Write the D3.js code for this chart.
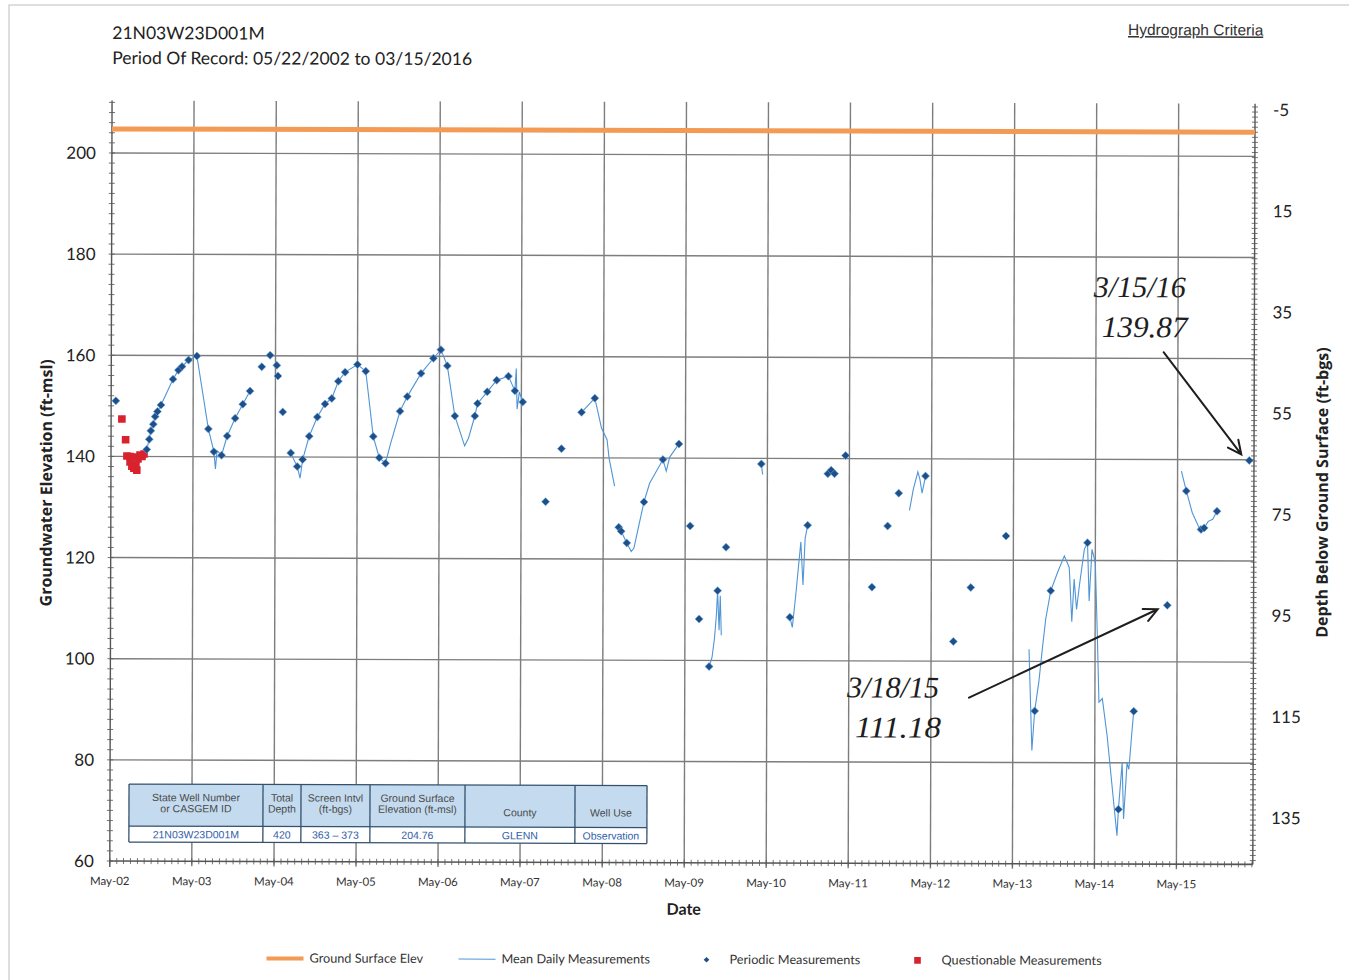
<!DOCTYPE html>
<html>
<head>
<meta charset="utf-8">
<script src="https://cdn.jsdelivr.net/npm/d3@7"></script>
<style>
  body { margin: 0; background: #fff; }
  svg { display: block; }
</style>
</head>
<body>
<svg id="chart" width="1349" height="980"></svg>
<script>
"use strict";

//data

const wellId = "21N03W23D001M";
const periodText = "Period Of Record: 05/22/2002 to 03/15/2016";
const groundElev = 204.76;

const periodicDates = [
  "2002-05-22", "2002-10-07", "2002-10-18", "2002-10-25", "2002-11-05", "2002-11-13", "2002-11-23",
  "2002-12-09", "2003-01-31", "2003-02-24", "2003-03-12", "2003-04-10", "2003-05-17", "2003-07-08",
  "2003-08-02", "2003-09-05", "2003-09-30", "2003-11-04", "2003-12-08", "2004-01-09", "2004-03-01",
  "2004-04-07", "2004-05-07", "2004-05-12", "2004-06-03", "2004-07-09", "2004-08-07", "2004-08-31",
  "2004-09-29", "2004-11-04", "2004-12-08", "2005-01-07", "2005-02-05", "2005-03-07", "2005-05-01",
  "2005-06-07", "2005-07-11", "2005-08-07", "2005-09-04", "2005-11-07", "2005-12-09", "2006-02-08",
  "2006-04-04", "2006-05-07", "2006-06-05", "2006-07-09", "2006-10-06", "2006-10-18", "2006-11-30",
  "2007-01-11", "2007-03-04", "2007-04-02", "2007-05-07", "2007-08-18", "2007-10-27", "2008-01-24",
  "2008-03-23", "2008-07-09", "2008-07-20", "2008-08-14", "2008-10-29", "2009-01-21", "2009-04-02",
  "2009-05-23", "2009-07-03", "2009-08-17", "2009-09-23", "2009-10-30", "2010-04-04", "2010-08-11",
  "2010-10-28", "2011-01-25", "2011-02-09", "2011-02-24", "2011-04-14", "2011-08-11", "2011-10-19",
  "2011-12-07", "2012-04-04", "2012-08-08", "2012-10-24", "2013-03-29", "2013-08-06", "2013-10-15",
  "2014-03-27", "2014-08-15", "2014-10-21", "2015-03-18", "2015-06-09", "2015-08-14", "2015-08-28",
  "2015-10-24", "2016-03-15"
];

const periodicElev = [
  151.0, 141.4, 143.4, 145.1, 146.4, 147.9, 148.9,
  150.2, 155.3, 157.1, 157.8, 159.1, 159.9, 145.5,
  141.0, 140.3, 144.1, 147.6, 150.4, 153.0, 157.8,
  160.1, 158.1, 156.0, 148.9, 140.8, 138.1, 139.5,
  144.1, 147.9, 150.5, 151.6, 155.0, 156.8, 158.3,
  157.0, 144.1, 139.9, 138.8, 149.1, 152.0, 156.6,
  159.6, 161.3, 158.1, 148.2, 148.2, 150.7, 153.0,
  155.3, 156.1, 153.2, 151.0, 131.3, 141.8, 149.0,
  151.8, 126.3, 125.5, 123.2, 131.3, 139.7, 142.8,
  126.6, 108.2, 98.8, 113.8, 122.4, 138.9, 108.6,
  126.8, 137.0, 137.7, 137.0, 140.6, 114.6, 126.7,
  133.2, 136.6, 103.9, 114.6, 124.8, 90.2, 114.0,
  123.5, 70.8, 90.2, 111.18, 133.8, 126.2, 126.5,
  129.8, 139.87
];

const questionableDates = [
  "2002-06-18", "2002-07-05", "2002-07-11", "2002-07-25", "2002-07-25", "2002-08-02", "2002-08-11",
  "2002-08-16", "2002-08-20", "2002-08-29", "2002-09-07", "2002-09-16", "2002-09-25", "2002-08-24"
];

const questionableElev = [
  147.4, 143.3, 140.1, 138.9, 140.0, 138.1, 137.7,
  139.9, 138.3, 139.5, 140.3, 140.0, 140.5, 137.3
];

//mean daily measurements, null marks a gap in the record

const dailyDates = [
  "2002-09-25", "2002-10-07", "2002-10-18", "2002-10-25", "2002-11-05", "2002-11-13", "2002-11-23",
  "2002-12-09", "2003-01-31", "2003-02-24", "2003-03-12", "2003-04-10", "2003-05-17", "2003-07-08",
  "2003-08-02", "2003-08-09", "2003-08-16", "2003-09-05", "2003-09-30", "2003-11-04", "2003-12-08",
  "2004-01-09", null,
  "2004-07-09", "2004-08-07", "2004-08-20", "2004-08-31", "2004-09-29", "2004-11-04", "2004-12-08",
  "2005-01-07", "2005-02-05", "2005-03-07", "2005-05-01", "2005-06-07", "2005-07-11", "2005-08-07",
  "2005-09-04", "2005-09-25", "2005-11-07", "2005-12-09", "2006-02-08", "2006-04-04", "2006-05-07",
  "2006-06-05", "2006-07-09", "2006-08-22", "2006-09-08", "2006-10-06", "2006-10-18", "2006-11-30",
  "2007-01-11", "2007-03-04", "2007-04-02", "2007-04-08", "2007-04-12", "2007-04-22", "2007-05-07", null,
  "2008-01-24", "2008-03-23", "2008-04-22", "2008-05-17", "2008-05-26", "2008-06-20", null,
  "2008-07-09", "2008-07-20", "2008-08-14", "2008-09-03", "2008-09-15", "2008-10-29", "2008-11-23",
  "2009-01-21", "2009-02-05", "2009-02-20", "2009-04-02", null,
  "2009-08-17", "2009-08-30", "2009-09-10", "2009-09-18", "2009-09-23", "2009-09-30", "2009-10-05",
  "2009-10-10", null,
  "2010-04-04", "2010-04-10", null,
  "2010-08-11", "2010-08-22", "2010-09-06", "2010-09-28", "2010-10-08", "2010-10-17", "2010-10-28", null,
  "2012-01-24", "2012-02-10", "2012-03-01", "2012-03-10", "2012-03-20", "2012-04-04", null,
  "2013-07-11", "2013-07-25", "2013-08-06", "2013-08-24", "2013-09-08", "2013-09-23", "2013-10-15",
  "2013-11-14", "2013-12-14", "2014-01-05", "2014-01-17", "2014-01-27", "2014-02-07", "2014-02-19",
  "2014-03-13", "2014-03-27", "2014-04-04", "2014-04-16", "2014-05-01", "2014-05-11", "2014-05-19",
  "2014-06-03", "2014-06-25", "2014-07-25", "2014-08-09", "2014-08-15", "2014-08-31", "2014-09-07",
  "2014-09-22", "2014-09-30", "2014-10-14", "2014-10-21", null,
  "2015-05-18", "2015-06-09", "2015-07-06", "2015-08-06", "2015-08-14", "2015-08-28", "2015-09-15",
  "2015-10-05", "2015-10-24"
];

const dailyElev = [
  140.2, 141.4, 143.4, 145.1, 146.4, 147.9, 148.9,
  150.2, 155.3, 157.1, 157.8, 159.1, 159.9, 145.5,
  141.0, 137.6, 141.2, 140.3, 144.1, 147.6, 150.4,
  153.0, null,
  140.8, 138.1, 135.8, 139.5, 144.1, 147.9, 150.5,
  151.6, 155.0, 156.8, 158.3, 157.0, 144.1, 139.9,
  138.8, 142.5, 149.1, 152.0, 156.6, 159.6, 161.3,
  158.1, 148.2, 142.3, 143.8, 148.2, 150.7, 153.0,
  155.3, 156.1, 153.2, 157.6, 149.6, 153.0, 151.0, null,
  149.0, 151.8, 145.9, 143.6, 140.0, 134.4, null,
  126.3, 125.5, 123.2, 121.5, 122.2, 131.3, 135.0,
  139.7, 137.4, 140.2, 142.8, null,
  98.8, 100.6, 104.5, 109.0, 113.8, 106.0, 112.8,
  105.0, null,
  138.9, 136.8, null,
  108.6, 106.6, 113.0, 123.5, 115.0, 124.2, 126.8, null,
  129.8, 134.0, 137.4, 136.0, 133.2, 136.6, null,
  102.4, 82.4, 90.2, 95.9, 102.4, 108.4, 114.0,
  117.6, 120.9, 118.6, 107.9, 116.3, 110.3, 114.9,
  122.2, 123.5, 112.0, 122.2, 119.6, 105.1, 92.0,
  92.7, 85.3, 72.1, 65.6, 70.8, 80.0, 68.9,
  80.0, 78.7, 86.6, 90.2, null,
  137.7, 133.8, 129.5, 126.5, 126.2, 126.5, 127.8,
  128.2, 129.8
];

//axis ticks

const elevTicks = [60, 80, 100, 120, 140, 160, 180, 200];
const depthTicks = [-5, 15, 35, 55, 75, 95, 115, 135];

//well table

const tableHeaders = [
  ["State Well Number", "or CASGEM ID"],
  ["Total", "Depth"],
  ["Screen Intvl", "(ft-bgs)"],
  ["Ground Surface", "Elevation (ft-msl)"],
  ["County"],
  ["Well Use"]
];
const tableValues = ["21N03W23D001M", "420", "363 \u2013 373", "204.76", "GLENN", "Observation"];

//handwritten notes

const noteDates = ["2016-03-15", "2015-03-18"];
const noteElev = [139.87, 111.18];
const noteLines = [["3/15/16", "139.87"], ["3/18/15", "111.18"]];

//legend

const legendLabels = ["Ground Surface Elev", "Mean Daily Measurements", "Periodic Measurements", "Questionable Measurements"];

//layout

const plot = { left: 111, right: 1254, top: 102.4, bottom: 861 };
const colors = {
  grid: "#7d7d7d",
  ground: "#f39a55",
  daily: "#4f95d6",
  periodic: "#1f4f88",
  questionable: "#d8232f",
  text: "#222"
};
const calibri = "Lato, 'Open Sans', sans-serif";
const wide = "'Open Sans', Lato, sans-serif";
const arial = "'Liberation Sans', Arial, sans-serif";

//scales

const parse = d3.utcParse("%Y-%m-%d");

const x = d3.scaleUtc()
  .domain([parse("2002-05-01"), parse("2016-04-05")])
  .range([plot.left, plot.right]);

const y = d3.scaleLinear()
  .domain([60, 210])
  .range([plot.bottom, plot.top]);

const yDepth = d3.scaleLinear()
  .domain([groundElev - 60, groundElev - 210])
  .range([plot.bottom, plot.top]);

const yearTicks = d3.utcYear.range(parse("2002-01-01"), parse("2016-01-01"))
  .map((d) => d3.utcMonth.offset(d, 4));

//render

const svg = d3.select("#chart");

svg.append("rect").attr("width", 1349).attr("height", 980).attr("fill", "#fff");

//scan frame

svg.append("rect")
  .attr("x", 9).attr("y", 5).attr("width", 1360).attr("height", 1000)
  .attr("fill", "none").attr("stroke", "#c8c8c8").attr("stroke-width", 1.2);

const page = svg.append("g").attr("transform", `rotate(0.17, ${plot.left}, 457)`);

//titles

page.append("text")
  .attr("x", 111).attr("y", 39)
  .attr("font-family", calibri).attr("font-size", 17.5).attr("fill", colors.text)
  .text(wellId);

page.append("text")
  .attr("x", 111).attr("y", 64)
  .attr("font-family", calibri).attr("font-size", 17.5).attr("fill", colors.text)
  .text(periodText);

page.append("text")
  .attr("x", 1262).attr("y", 32).attr("text-anchor", "end")
  .attr("font-family", arial).attr("font-size", 15.5).attr("fill", "#333")
  .attr("text-decoration", "underline")
  .text("Hydrograph Criteria");

//grid

const grid = page.append("g");

grid.selectAll(".hgrid")
  .data(elevTicks.filter((d) => d > 60))
  .join("line")
  .attr("x1", plot.left).attr("x2", plot.right)
  .attr("y1", (d) => y(d)).attr("y2", (d) => y(d))
  .attr("stroke", colors.grid).attr("stroke-width", 1.4);

grid.selectAll(".vgrid")
  .data(yearTicks.slice(1))
  .join("line")
  .attr("x1", (d) => x(d)).attr("x2", (d) => x(d))
  .attr("y1", plot.top - 2).attr("y2", plot.bottom + 5)
  .attr("stroke", colors.grid).attr("stroke-width", 1.4);

//axes

const axes = page.append("g").attr("stroke", "#555");

axes.append("line")
  .attr("x1", plot.left).attr("x2", plot.left)
  .attr("y1", plot.top - 2).attr("y2", plot.bottom)
  .attr("stroke-width", 1.4);

axes.append("line")
  .attr("x1", plot.right).attr("x2", plot.right)
  .attr("y1", plot.top - 2).attr("y2", plot.bottom)
  .attr("stroke-width", 1.4);

axes.append("line")
  .attr("x1", plot.left).attr("x2", plot.right)
  .attr("y1", plot.bottom).attr("y2", plot.bottom)
  .attr("stroke-width", 1.6);

//minor ticks

axes.selectAll(".lminor")
  .data(d3.range(60, 211, 2))
  .join("line")
  .attr("x1", plot.left - 3).attr("x2", plot.left + 3)
  .attr("y1", (d) => y(d)).attr("y2", (d) => y(d))
  .attr("stroke-width", 0.8);

axes.selectAll(".rminor")
  .data(d3.range(-5, 145, 1))
  .join("line")
  .attr("x1", plot.right - 3).attr("x2", plot.right + 3)
  .attr("y1", (d) => yDepth(d)).attr("y2", (d) => yDepth(d))
  .attr("stroke-width", 0.8);

axes.selectAll(".xminor")
  .data(d3.utcMonth.range(x.domain()[0], x.domain()[1]))
  .join("line")
  .attr("x1", (d) => x(d)).attr("x2", (d) => x(d))
  .attr("y1", plot.bottom - 3).attr("y2", plot.bottom + 3)
  .attr("stroke-width", 0.8);

axes.append("line")
  .attr("x1", plot.left).attr("x2", plot.left)
  .attr("y1", plot.bottom).attr("y2", plot.bottom + 6)
  .attr("stroke-width", 1.4);

//tick labels

page.selectAll(".ylabel")
  .data(elevTicks)
  .join("text")
  .attr("x", 95).attr("y", (d) => y(d) + 6)
  .attr("text-anchor", "end")
  .attr("font-family", calibri).attr("font-size", 17).attr("fill", colors.text)
  .text((d) => d);

page.selectAll(".dlabel")
  .data(depthTicks)
  .join("text")
  .attr("x", 1272).attr("y", (d) => yDepth(d) + 9)
  .attr("font-family", calibri).attr("font-size", 17).attr("fill", colors.text)
  .text((d) => d);

page.selectAll(".xlabel")
  .data(yearTicks)
  .join("text")
  .attr("x", (d) => x(d)).attr("y", 885)
  .attr("text-anchor", "middle")
  .attr("font-family", calibri).attr("font-size", 11.5).attr("fill", "#333")
  .text((d) => d3.utcFormat("%b-%y")(d));

//axis titles

page.append("text")
  .attr("x", 685).attr("y", 913)
  .attr("text-anchor", "middle")
  .attr("font-family", calibri).attr("font-size", 16).attr("font-weight", "bold").attr("fill", colors.text)
  .text("Date");

page.append("text")
  .attr("transform", "translate(52, 483) rotate(-90)")
  .attr("text-anchor", "middle")
  .attr("font-family", wide).attr("font-size", 16).attr("font-weight", "bold").attr("fill", colors.text)
  .text("Groundwater Elevation (ft-msl)");

page.append("text")
  .attr("transform", "translate(1328, 489) rotate(-90)")
  .attr("text-anchor", "middle")
  .attr("font-family", wide).attr("font-size", 16).attr("font-weight", "bold").attr("fill", colors.text)
  .text("Depth Below Ground Surface (ft-bgs)");

//ground surface

page.append("line")
  .attr("x1", plot.left).attr("x2", plot.right)
  .attr("y1", y(groundElev)).attr("y2", y(groundElev))
  .attr("stroke", colors.ground).attr("stroke-width", 5);

//mean daily line

const daily = dailyDates.map((d, i) => ({ date: d && parse(d), v: dailyElev[i] }));

const lineFn = d3.line()
  .defined((d) => d.v !== null)
  .x((d) => x(d.date))
  .y((d) => y(d.v));

page.append("path")
  .datum(daily)
  .attr("d", lineFn)
  .attr("fill", "none")
  .attr("stroke", colors.daily)
  .attr("stroke-width", 1.1);

//questionable measurements

const squareFn = d3.symbol().type(d3.symbolSquare).size(58);

page.selectAll(".quest")
  .data(questionableDates.map((d, i) => ({ date: parse(d), v: questionableElev[i] })))
  .join("path")
  .attr("d", squareFn)
  .attr("transform", (d) => `translate(${x(d.date)}, ${y(d.v)})`)
  .attr("fill", colors.questionable);

//periodic measurements

const diamondFn = d3.symbol().type(d3.symbolSquare).size(32);

page.selectAll(".periodic")
  .data(periodicDates.map((d, i) => ({ date: parse(d), v: periodicElev[i] })))
  .join("path")
  .attr("d", diamondFn)
  .attr("transform", (d) => `translate(${x(d.date)}, ${y(d.v)}) rotate(45)`)
  .attr("fill", colors.periodic)
  .attr("stroke", "#6aa6dc")
  .attr("stroke-width", 0.6);

//well table

const colWidths = [134, 38, 69, 95, 110, 72];
const colX = colWidths.reduce((acc, w) => acc.concat(acc[acc.length - 1] + w), [130]);
const table = page.append("g");
const headTop = 784;
const headH = 42;
const rowH = 16;

table.append("rect")
  .attr("x", colX[0]).attr("y", headTop)
  .attr("width", colX[colX.length - 1] - colX[0]).attr("height", headH)
  .attr("fill", "#c4dbef");

table.append("rect")
  .attr("x", colX[0]).attr("y", headTop + headH)
  .attr("width", colX[colX.length - 1] - colX[0]).attr("height", rowH)
  .attr("fill", "#fff");

table.selectAll(".colline")
  .data(colX)
  .join("line")
  .attr("x1", (d) => d).attr("x2", (d) => d)
  .attr("y1", headTop).attr("y2", headTop + headH + rowH)
  .attr("stroke", "#33506d").attr("stroke-width", 1.3);

table.selectAll(".rowline")
  .data([headTop, headTop + headH, headTop + headH + rowH])
  .join("line")
  .attr("x1", colX[0]).attr("x2", colX[colX.length - 1])
  .attr("y1", (d) => d).attr("y2", (d) => d)
  .attr("stroke", "#33506d").attr("stroke-width", 1.3);

tableHeaders.forEach((lines, i) => {

  const cx = (colX[i] + colX[i + 1]) / 2;
  const top = lines.length === 1 ? headTop + 31 : headTop + 17;

  table.selectAll(null)
    .data(lines)
    .join("text")
    .attr("x", cx).attr("y", (d, j) => top + j * 11)
    .attr("text-anchor", "middle")
    .attr("font-family", arial).attr("font-size", 10.5).attr("fill", "#4a4a4a")
    .text((d) => d);

});

table.selectAll(".cellval")
  .data(tableValues)
  .join("text")
  .attr("x", (d, i) => (colX[i] + colX[i + 1]) / 2)
  .attr("y", headTop + headH + 12)
  .attr("text-anchor", "middle")
  .attr("font-family", arial).attr("font-size", 10.5).attr("fill", "#2f5ea8")
  .text((d) => d);

//legend

const legend = page.append("g").attr("font-family", calibri).attr("font-size", 12.7).attr("fill", "#333");
const legendX = [268, 460, 700, 912];
const legendY = 958;

legend.append("line")
  .attr("x1", legendX[0]).attr("x2", legendX[0] + 37)
  .attr("y1", legendY).attr("y2", legendY)
  .attr("stroke", colors.ground).attr("stroke-width", 4);

legend.append("line")
  .attr("x1", legendX[1]).attr("x2", legendX[1] + 37)
  .attr("y1", legendY).attr("y2", legendY)
  .attr("stroke", colors.daily).attr("stroke-width", 1);

legend.append("path")
  .attr("d", d3.symbol().type(d3.symbolSquare).size(16))
  .attr("transform", `translate(${legendX[2] + 8}, ${legendY}) rotate(45)`)
  .attr("fill", colors.periodic);

legend.append("path")
  .attr("d", d3.symbol().type(d3.symbolSquare).size(44))
  .attr("transform", `translate(${legendX[3] + 7}, ${legendY})`)
  .attr("fill", colors.questionable);

legend.selectAll("text")
  .data(legendLabels)
  .join("text")
  .attr("x", (d, i) => legendX[i] + [43, 43, 31, 31][i])
  .attr("y", legendY + 4)
  .text((d) => d);

//handwritten notes

const noteOffsets = [
  { tx: -156, ty: -163, ax: -86, ay: -108 },
  { tx: -320, ty: 93, ax: -198, ay: 93 }
];

const notes = page.append("g")
  .attr("font-family", "'Liberation Serif', 'DejaVu Serif', serif")
  .attr("font-style", "italic")
  .attr("font-size", 30)
  .attr("fill", "#1e1e1e");

noteDates.forEach((d, i) => {

  const px = x(parse(d));
  const py = y(noteElev[i]);
  const off = noteOffsets[i];

  notes.selectAll(null)
    .data(noteLines[i])
    .join("text")
    .attr("x", (t, j) => px + off.tx + j * 8)
    .attr("y", (t, j) => py + off.ty + j * 40)
    .attr("textLength", (t, j) => j === 0 ? 92 : 86)
    .attr("lengthAdjust", "spacingAndGlyphs")
    .text((t) => t);

  //arrow

  const end = [px - 8 * Math.sign(-off.ax) * (i === 0 ? 1 : 1.2), py + (i === 0 ? -6 : 4)];
  const start = [px + off.ax, py + off.ay];
  const ang = Math.atan2(end[1] - start[1], end[0] - start[0]);
  const head = 15;

  notes.append("path")
    .attr("d", `M${start[0]},${start[1]}L${end[0]},${end[1]}` +
      `M${end[0] - head * Math.cos(ang - 0.45)},${end[1] - head * Math.sin(ang - 0.45)}L${end[0]},${end[1]}` +
      `L${end[0] - head * Math.cos(ang + 0.45)},${end[1] - head * Math.sin(ang + 0.45)}`)
    .attr("fill", "none")
    .attr("stroke", "#1e1e1e")
    .attr("stroke-width", 2)
    .attr("stroke-linecap", "round");

});
</script>
</body>
</html>
